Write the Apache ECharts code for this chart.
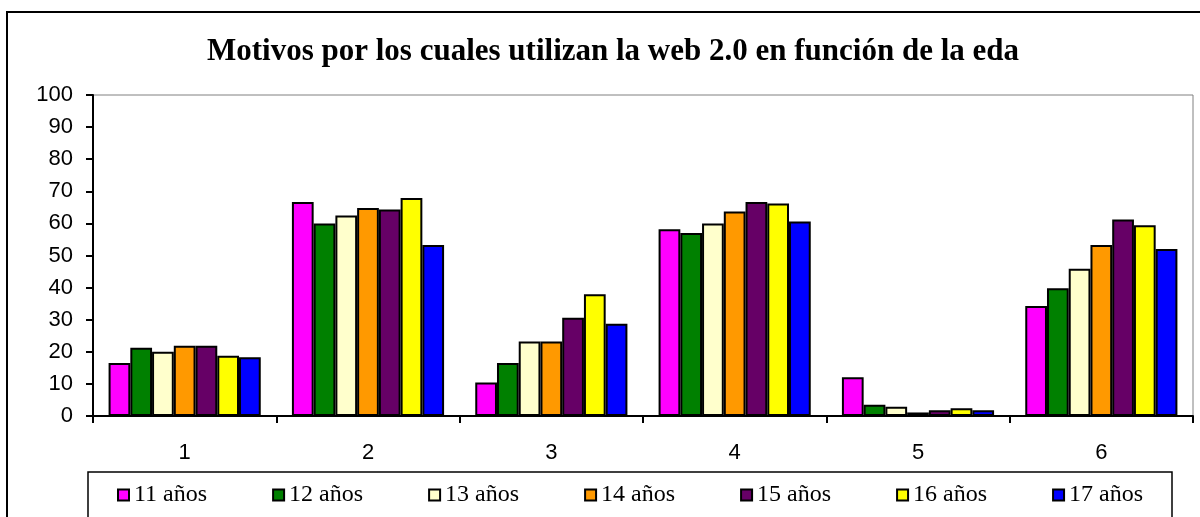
<!DOCTYPE html>
<html>
<head>
<meta charset="utf-8">
<script src="https://cdn.jsdelivr.net/npm/echarts@6/dist/echarts.min.js"></script>
<style>
  html, body { margin: 0; padding: 0; background: #fff; }
  #chart { width: 1200px; height: 517px; }
</style>
</head>
<body>
<div id="chart"></div>
<script>
const categories = ['1', '2', '3', '4', '5', '6'];
const seriesNames = ['11 años', '12 años', '13 años', '14 años', '15 años', '16 años', '17 años'];
const colors = ['#ff00ff', '#008000', '#ffffcc', '#ff9900', '#660066', '#ffff00', '#0000ff'];

const edad11 = [16.5, 66.7, 10.4, 58.2, 12.1, 34.3];
const edad12 = [21.3, 60.0, 16.5, 57.0, 3.5, 39.8];
const edad13 = [20.0, 62.5, 23.2, 60.0, 2.9, 45.9];
const edad14 = [21.9, 64.8, 23.2, 63.7, 1.1, 53.3];
const edad15 = [21.9, 64.3, 30.6, 66.7, 1.8, 61.2];
const edad16 = [18.8, 67.9, 37.9, 66.2, 2.4, 59.4];
const edad17 = [18.3, 53.3, 28.7, 60.6, 1.8, 52.0];
const allValues = [edad11, edad12, edad13, edad14, edad15, edad16, edad17];

const yTicks = { min: 0, max: 100, interval: 10 };

const chart = echarts.init(document.getElementById('chart'));

const series = allValues.map((vals, i) => ({
  name: seriesNames[i],
  type: 'bar',
  data: vals,
  barGap: '0%',
  barCategoryGap: '17%',
  itemStyle: {
    color: colors[i],
    borderColor: '#000',
    borderWidth: 2,
  },
}));

chart.setOption({
  backgroundColor: '#fff',
  animation: false,
  title: {
    text: 'Motivos por los cuales utilizan la web 2.0 en función de la eda',
    left: 608,
    textAlign: 'center',
    top: 31,
    textStyle: {
      fontFamily: 'Liberation Serif',
      fontWeight: 'bold',
      fontSize: 31,
      color: '#000',
    },
  },
  graphic: [
    {
      type: 'rect',
      shape: { x: 7, y: 12, width: 1300, height: 600 },
      style: { fill: 'none', stroke: '#000', lineWidth: 2 },
      z: 0,
    },
    {
      type: 'rect',
      shape: { x: 88, y: 472, width: 1084, height: 60 },
      style: { fill: 'none', stroke: '#000', lineWidth: 1.5 },
      z: 0,
    },
  ],
  legend: {
    data: seriesNames,
    left: 117,
    top: 483,
    padding: 0,
    itemWidth: 11,
    itemHeight: 11,
    itemGap: 65,
    icon: 'rect',
    textStyle: {
      fontFamily: 'Liberation Serif',
      fontSize: 24,
      color: '#000',
    },
  },
  grid: {
    left: 93,
    right: 7,
    top: 95,
    bottom: 101,
    show: true,
    borderColor: '#808080',
    borderWidth: 1,
  },
  xAxis: {
    type: 'category',
    data: categories,
    axisLine: { lineStyle: { color: '#000', width: 2 } },
    axisTick: { show: true, length: 7, lineStyle: { color: '#000', width: 2 } },
    axisLabel: {
      color: '#000',
      fontFamily: 'Liberation Sans',
      fontSize: 22,
      margin: 26,
    },
    splitLine: { show: false },
  },
  yAxis: {
    type: 'value',
    min: yTicks.min,
    max: yTicks.max,
    interval: yTicks.interval,
    axisLine: { show: true, lineStyle: { color: '#000', width: 2 } },
    axisTick: { show: true, length: 7, lineStyle: { color: '#000', width: 2 } },
    axisLabel: {
      color: '#000',
      fontFamily: 'Liberation Sans',
      fontSize: 22,
      margin: 20,
    },
    splitLine: { show: false },
  },
  series: series,
});
</script>
</body>
</html>
